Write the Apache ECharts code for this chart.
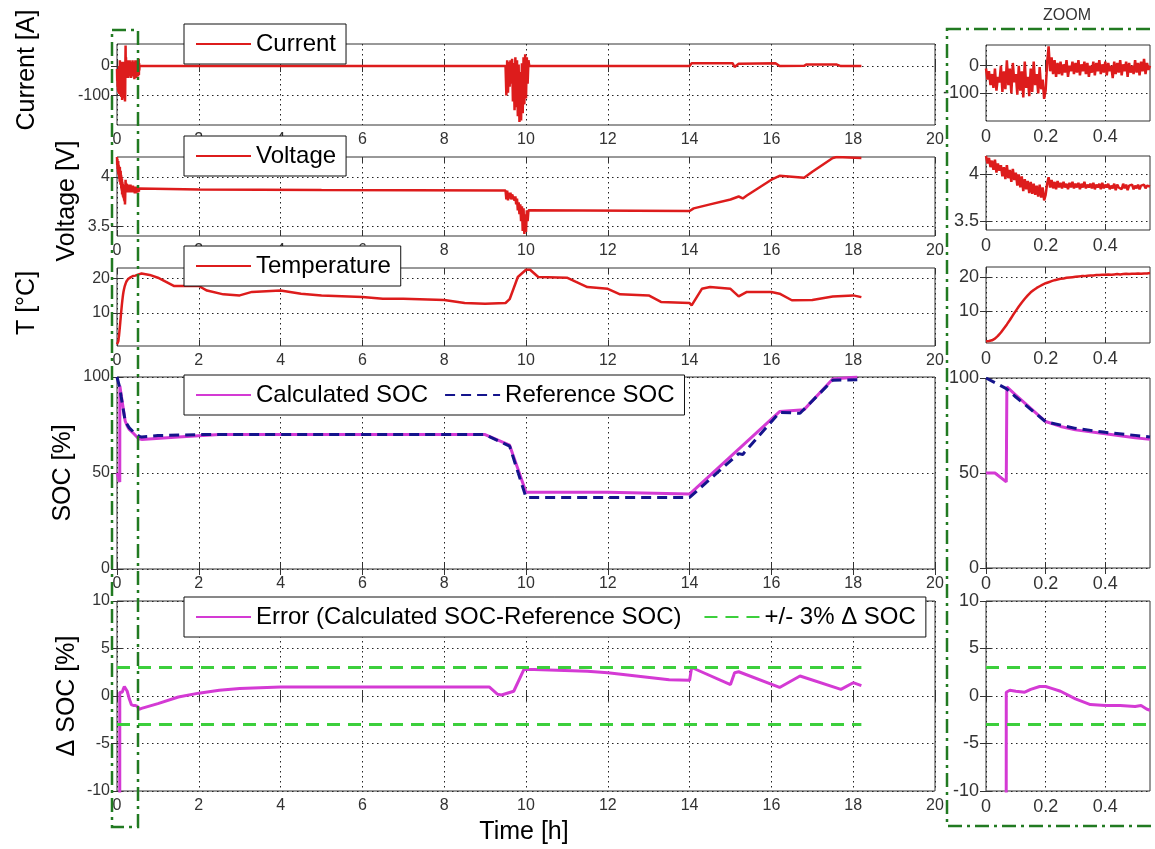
<!DOCTYPE html>
<html>
<head>
<meta charset="utf-8">
<title>SOC estimation</title>
<script src="https://cdn.jsdelivr.net/npm/echarts@6.0.0/dist/echarts.min.js"></script>
<style>
html, body { margin: 0; padding: 0; background: #fff; }
#chart { width: 1155px; height: 849px; }
</style>
</head>
<body>
<div id="chart"></div>
<script>
// first half hour of the log, sampled every logStep hours (shown in full view and in ZOOM)
var logStep = 0.005;
var currentStart = [
	-10, -50, -20, -70, -30, -80, -10, -90, -40, -60,
	0, -95, -20, -85, 20, -70, -10, -100, 10, -60,
	-30, -105, 0, -90, -20, -115, 15, -80, -40, -110,
	-10, -95, 15, -70, -30, -100, -5, -85, -50, -120,
	-90, 10, 70, -20, 30, -30, 20, -40, 10, -30,
	15, -35, 5, -25, 20, -40, 0, -20, 15, -30,
	10, -25, 20, -35, 5, -20, 15, -30, 10, -40,
	0, -25, 15, -35, 10, -20, 20, -30, 5, -25,
	15, -35, 10, -20, 0, -45, 15, -30, 10, -25,
	20, -35, 5, -20, 15, -40, 10, -25, 0, -30,
	20, -25, 10, -35, 15, -20, 25, -30, 10, -15, 0
];
var voltageStart = [
	4.20, 4.12, 4.18, 4.08, 4.15, 4.05, 4.16, 4.02, 4.12, 4.04,
	4.10, 3.98, 4.08, 3.95, 4.10, 3.96, 4.05, 3.92, 4.06, 3.94,
	4.02, 3.88, 4.00, 3.86, 3.98, 3.82, 3.95, 3.84, 3.93, 3.80,
	3.92, 3.79, 3.90, 3.78, 3.88, 3.76, 3.89, 3.75, 3.86, 3.72,
	3.78, 3.90, 3.97, 3.86, 3.94, 3.85, 3.92, 3.84, 3.93, 3.86,
	3.91, 3.85, 3.92, 3.86, 3.90, 3.84, 3.91, 3.86, 3.92, 3.85,
	3.90, 3.86, 3.91, 3.84, 3.90, 3.86, 3.92, 3.85, 3.89, 3.86,
	3.90, 3.85, 3.91, 3.84, 3.89, 3.86, 3.90, 3.84, 3.91, 3.85,
	3.89, 3.86, 3.90, 3.84, 3.88, 3.85, 3.90, 3.83, 3.89, 3.86,
	3.88, 3.84, 3.90, 3.85, 3.89, 3.83, 3.88, 3.86, 3.89, 3.84,
	3.88, 3.85, 3.89, 3.84, 3.88, 3.86, 3.89, 3.85, 3.88, 3.86, 3.87
];
var tempStep = 0.01;
var tempStart = [
	1.0, 1.1, 1.3, 1.8, 2.6, 3.6, 4.8, 6.0, 7.3, 8.7,
	10.0, 11.3, 12.5, 13.6, 14.6, 15.5, 16.2, 16.8, 17.3, 17.8,
	18.2, 18.5, 18.8, 19.1, 19.3, 19.5, 19.6, 19.8, 19.9, 20.0,
	20.1, 20.2, 20.3, 20.3, 20.4, 20.5, 20.5, 20.6, 20.6, 20.7,
	20.7, 20.8, 20.7, 20.8, 20.9, 20.8, 20.9, 21.0, 20.9, 21.0,
	21.0, 21.1, 21.0, 21.1, 21.1, 21.2
];
var socCalcStart = [[0, 50], [0.03, 50], [0.068, 45.3], [0.07, 95.3], [0.1, 91], [0.15, 84],
	[0.2, 77.1], [0.25, 74.5], [0.3, 72.7], [0.4, 70.7], [0.5, 68.5], [0.55, 67.7]];
var socRefStart = [[0, 100], [0.068, 94.4], [0.1, 90], [0.15, 83.5], [0.2, 77], [0.3, 73.5],
	[0.4, 71.4], [0.5, 69.8], [0.55, 69]];
var errStart = [[0, -50], [0.067, -49.5], [0.068, 0.4], [0.08, 0.6], [0.1, 0.5], [0.13, 0.4],
	[0.15, 0.7], [0.18, 1.0], [0.2, 1.0], [0.22, 0.8], [0.25, 0.5], [0.3, -0.3], [0.35, -0.9],
	[0.4, -1.0], [0.45, -1.0], [0.5, -1.1], [0.52, -1.0], [0.54, -1.4], [0.55, -1.5]];

// rest of the drive, [time h, value]
var currentRest = [[0.56, 0], [9.5, 0], [9.52, -100], [9.54, 20], [9.56, -90], [9.58, 15], [9.6, -70],
	[9.62, 20], [9.64, -60], [9.66, 25], [9.68, -120], [9.7, 10], [9.72, -150], [9.74, 30], [9.76, -140],
	[9.78, 20], [9.8, -170], [9.82, 5], [9.84, -190], [9.86, -20], [9.88, -185], [9.9, 10], [9.92, -160],
	[9.94, 30], [9.96, -130], [9.98, 40], [10.0, -110], [10.02, 30], [10.04, -60], [10.06, 20], [10.08, 0],
	[14.0, 0], [14.05, 10], [15.05, 10], [15.1, -3], [15.2, 8], [16.1, 10], [16.2, 0], [16.8, 1],
	[16.85, 5], [17.6, 5], [17.7, 0], [18.2, 0]];
var voltageRest = [[0.56, 3.87], [2, 3.87], [5, 3.865], [9.5, 3.86], [9.52, 3.77], [9.54, 3.86],
	[9.56, 3.76], [9.58, 3.84], [9.6, 3.78], [9.62, 3.84], [9.64, 3.77], [9.66, 3.82], [9.68, 3.80],
	[9.7, 3.82], [9.72, 3.76], [9.74, 3.80], [9.76, 3.72], [9.78, 3.78], [9.8, 3.66], [9.82, 3.74],
	[9.84, 3.62], [9.86, 3.72], [9.88, 3.55], [9.9, 3.70], [9.92, 3.45], [9.94, 3.68], [9.96, 3.42],
	[9.98, 3.62], [10.0, 3.44], [10.02, 3.66], [10.04, 3.55], [10.06, 3.66], [10.1, 3.66], [14.0, 3.653],
	[14.1, 3.68], [14.5, 3.72], [15.0, 3.77], [15.2, 3.80], [15.3, 3.78], [15.4, 3.81], [16.0, 3.97],
	[16.2, 4.01], [16.8, 3.99], [17.0, 4.05], [17.5, 4.19], [17.6, 4.2], [18.2, 4.19]];
var tempRest = [[0.6, 21.4], [0.8, 21.0], [1.0, 20.2], [1.2, 19.0], [1.4, 17.8], [2.0, 17.8], [2.2, 16.5],
	[2.6, 15.4], [3.0, 15.1], [3.3, 16.1], [4.0, 16.5], [4.5, 15.6], [5.0, 15.1], [6.0, 14.6], [6.5, 14.1],
	[7.0, 14.1], [8.0, 13.8], [8.5, 12.9], [9.0, 12.7], [9.5, 12.9], [9.6, 14], [9.8, 20.4], [10.0, 22.5],
	[10.1, 22.5], [10.3, 20.4], [11.0, 20.2], [11.5, 17.5], [12.0, 17], [12.3, 15.4], [13.0, 15.1],
	[13.3, 13.2], [14.0, 12.9], [14.05, 12.2], [14.3, 17], [14.5, 17.5], [15.0, 17], [15.2, 14.8],
	[15.4, 16.1], [16.0, 16.1], [16.2, 15.6], [16.5, 13.7], [17.0, 13.8], [17.5, 14.8], [18.0, 15.1],
	[18.2, 14.6]];
var socCalcRest = [[0.6, 67.5], [1.5, 68.8], [2.5, 70], [9.0, 70], [9.6, 64.5], [10.0, 40], [12, 40],
	[14.0, 39], [15.0, 58.5], [16.2, 82], [16.8, 83], [17.5, 99], [18.1, 100]];
var socRefRest = [[0.6, 68.8], [1.0, 69.5], [2.0, 70], [9.0, 70], [9.6, 64], [10.0, 37.3], [14.0, 37.3],
	[15.2, 60.1], [15.3, 59.6], [15.35, 61], [16.2, 81.6], [16.7, 81.1], [17.5, 98.3], [18.1, 98.6]];
var errRest = [[0.6, -1.3], [1.0, -0.8], [1.5, -0.1], [2.0, 0.3], [2.5, 0.6], [3.0, 0.8], [4.0, 0.95],
	[9.1, 0.95], [9.3, 0.2], [9.4, 0.1], [9.7, 0.5], [9.95, 2.8], [10.2, 2.8], [11.5, 2.6], [12.0, 2.45],
	[13.5, 1.7], [14.0, 1.65], [14.05, 3.0], [15.0, 1.2], [15.1, 2.45], [15.2, 2.55], [16.2, 0.9],
	[16.7, 2.1], [17.7, 0.7], [18.0, 1.4], [18.2, 1.1]];
var errUpper = [[0, 3], [18.2, 3]];
var errLower = [[0, -3], [18.2, -3]];
var errUpperZoom = [[0, 3], [0.55, 3]];
var errLowerZoom = [[0, -3], [0.55, -3]];

var yTicks = [[-100, 0], [3.5, 4], [10, 20], [0, 50, 100], [-10, -5, 0, 5, 10]];
var zoomXTicks = [0, 0.2, 0.4];

function sampled(values, step) {
	return values.map(function (v, i) { return [+(i * step).toFixed(3), v]; });
}

var font = 'Liberation Sans, Arial, Helvetica, sans-serif';
var rows = [
	{top: 44, height: 81, zTop: 45, zHeight: 76, min: -200, max: 75},
	{top: 157, height: 79, zTop: 156, zHeight: 74, min: 3.4, max: 4.2},
	{top: 268, height: 78, zTop: 267, zHeight: 76, min: 0.5, max: 23},
	{top: 377, height: 192, zTop: 378, zHeight: 190, min: 0, max: 100},
	{top: 601, height: 190, zTop: 601, zHeight: 190, min: -10, max: 10}
];

var grids = [], xAxes = [], yAxes = [], axisIdx = [];
var dotted = {type: [1.5, 3.5], color: '#222', width: 1};
rows.forEach(function (r, ri) {
	axisIdx.push([]);
	[0, 1].forEach(function (side) {
		var zoom = side === 1;
		var gi = grids.length;
		grids.push({
			left: zoom ? 986 : 117, width: zoom ? 164 : 818,
			top: zoom ? r.zTop : r.top, height: zoom ? r.zHeight : r.height,
			show: true, borderColor: '#333', borderWidth: 1, backgroundColor: '#fff'
		});
		var fs = zoom ? 18 : 16;
		var xBase = {
			type: 'value', gridIndex: gi, min: 0, max: zoom ? 0.55 : 20,
			axisLine: {show: false},
			axisTick: {inside: true, length: 6, lineStyle: {color: '#333'}}
		};
		if (zoom) {
			xBase.axisTick.customValues = zoomXTicks;
		} else {
			xBase.interval = 2;
		}
		var xb = echarts.util.merge({
			position: 'bottom',
			axisLabel: {fontSize: fs, color: '#333', margin: 7, fontFamily: font},
			splitLine: {show: true, lineStyle: dotted}
		}, echarts.util.clone(xBase));
		if (zoom) xb.axisLabel.customValues = zoomXTicks;
		var xt = echarts.util.merge({
			position: 'top', axisLabel: {show: false}, splitLine: {show: false}
		}, echarts.util.clone(xBase));
		var xi = xAxes.length;
		xAxes.push(xb, xt);
		var yBase = {
			type: 'value', gridIndex: gi, min: r.min, max: r.max,
			axisLine: {show: false},
			axisTick: {inside: true, length: 6, lineStyle: {color: '#333'}, customValues: yTicks[ri]}
		};
		var yl = echarts.util.merge({
			position: 'left',
			axisLabel: {fontSize: fs, color: '#333', margin: 7, fontFamily: font, customValues: yTicks[ri]},
			splitLine: {show: true, lineStyle: dotted}
		}, echarts.util.clone(yBase));
		var yr = echarts.util.merge({
			position: 'right', axisLabel: {show: false}, splitLine: {show: false}
		}, echarts.util.clone(yBase));
		var yi = yAxes.length;
		yAxes.push(yl, yr);
		axisIdx[ri].push({x: xi, y: yi});
	});
});

var series = [];
function line(name, data, ri, side, color, width, dash) {
	series.push({
		name: name, type: 'line', data: data,
		xAxisIndex: axisIdx[ri][side].x, yAxisIndex: axisIdx[ri][side].y,
		symbol: 'none', animation: false, clip: true, z: dash ? 4 : 3,
		lineStyle: {color: color, width: width, type: dash || 'solid'},
		itemStyle: {color: color}
	});
}
var red = '#dd1c1c', mag = '#d43ad4', navy = '#14148c', lime = '#3ccf3c';
var ERR = 'Error (Calculated SOC-Reference SOC)', BAND = '+/- 3% \u0394 SOC';

var cur = sampled(currentStart, logStep), volt = sampled(voltageStart, logStep), temp = sampled(tempStart, tempStep);
line('Current', cur.concat(currentRest), 0, 0, red, 2.5);
line('Current', cur, 0, 1, red, 2.5);
line('Voltage', volt.concat(voltageRest), 1, 0, red, 2.5);
line('Voltage', volt, 1, 1, red, 2.5);
line('Temperature', temp.concat(tempRest), 2, 0, red, 2.5);
line('Temperature', temp, 2, 1, red, 2.5);
line('Calculated SOC', socCalcStart.concat(socCalcRest), 3, 0, mag, 3);
line('Reference SOC', socRefStart.concat(socRefRest), 3, 0, navy, 3, [10, 6]);
line('Calculated SOC', socCalcStart, 3, 1, mag, 3);
line('Reference SOC', socRefStart, 3, 1, navy, 3, [10, 6]);
line(ERR, errStart.concat(errRest), 4, 0, mag, 3);
line(BAND, errUpper, 4, 0, lime, 3, [13, 8]);
line(BAND, errLower, 4, 0, lime, 3, [13, 8]);
line(ERR, errStart, 4, 1, mag, 3);
line(BAND, errUpperZoom, 4, 1, lime, 3, [13, 8]);
line(BAND, errLowerZoom, 4, 1, lime, 3, [13, 8]);

// itemHeight kept tiny so the legend shows only the line sample, no marker dot
function legend(top, names, gap, w) {
	return {
		left: 184, top: top, data: names, itemGap: gap, itemWidth: w, itemHeight: 2,
		selectedMode: false, backgroundColor: '#fff', borderColor: '#111', borderWidth: 1,
		padding: [8, 10, 8, 11], z: 10, itemStyle: {opacity: 0},
		textStyle: {fontSize: 24, lineHeight: 24, color: '#000', fontFamily: font}
	};
}

function vtext(str, x, y) {
	return {
		type: 'text', x: x, y: y, rotation: Math.PI / 2, z: 20,
		style: {text: str, fontSize: 25, fontFamily: font, fill: '#000',
			textAlign: 'center', textVerticalAlign: 'middle', align: 'center', verticalAlign: 'middle'}
	};
}
function frame(x, y, w, h) {
	return {
		type: 'rect', z: 30, silent: true,
		shape: {x: x, y: y, width: w, height: h},
		style: {fill: null, stroke: '#217a21', lineWidth: 2.5, lineDash: [14, 5, 3, 5]}
	};
}

var chart = echarts.init(document.getElementById('chart'), null, {renderer: 'canvas'});
chart.setOption({
	animation: false,
	backgroundColor: '#fff',
	grid: grids,
	xAxis: xAxes,
	yAxis: yAxes,
	series: series,
	legend: [
		legend(24, ['Current'], 16, 55),
		legend(136, ['Voltage'], 16, 55),
		legend(246, ['Temperature'], 16, 55),
		legend(375, ['Calculated SOC', 'Reference SOC'], 16, 55),
		legend(597, [ERR, BAND], 22, 55)
	],
	graphic: [
		vtext('Current [A]', 27, 70),
		vtext('Voltage [V]', 67, 201),
		vtext('T [\u00b0C]', 27, 303),
		vtext('SOC [%]', 63, 473),
		vtext('\u0394 SOC [%]', 67, 696),
		{type: 'text', x: 524, y: 832, z: 20,
			style: {text: 'Time [h]', fontSize: 25, fontFamily: font, fill: '#000',
				textAlign: 'center', textVerticalAlign: 'middle', align: 'center', verticalAlign: 'middle'}},
		{type: 'text', x: 1067, y: 16, z: 20,
			style: {text: 'ZOOM', fontSize: 16, fontFamily: font, fill: '#333',
				textAlign: 'center', textVerticalAlign: 'middle', align: 'center', verticalAlign: 'middle'}},
		frame(112, 30, 26, 797),
		frame(947, 29, 230, 797)
	]
});
</script>
</body>
</html>
